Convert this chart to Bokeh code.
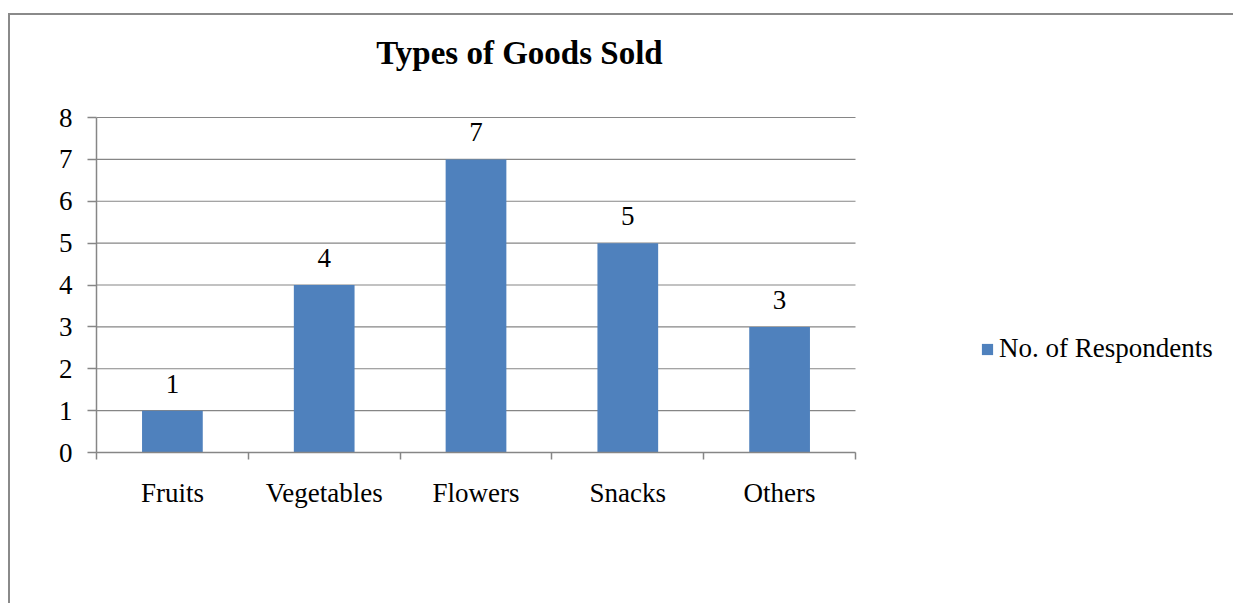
from bokeh.plotting import figure
from bokeh.models import (Range1d, LinearAxis, FixedTicker, Legend, LegendItem,
                          Label, ColumnDataSource)
from bokeh.core.properties import value
from bokeh.embed import file_html
from bokeh.resources import INLINE

# ---- data ----
categories = ["Fruits", "Vegetables", "Flowers", "Snacks", "Others"]
respondents = [1, 4, 7, 5, 3]
y_ticks = [0, 1, 2, 3, 4, 5, 6, 7, 8]
series_name = "No. of Respondents"
title_text = "Types of Goods Sold"

FONT = "Liberation Serif"
GRAY = "#868686"
BAR = "#4F81BD"
FS = "27px"

# ---- layout (pixels) ----
W, H = 1225, 590
LEFT, BOTTOM = 86, 153          # borders around the frame
PLOT_W, PLOT_H = 759, 335       # size of the bar area inside the frame
FRAME_W, FRAME_H = W - LEFT, H - BOTTOM

n = len(categories)
ymax = y_ticks[-1]
xs = [i + 0.5 for i in range(n)]
src = ColumnDataSource(dict(x=xs, val=respondents, lab=[str(v) for v in respondents]))

p = figure(width=W, height=H,
           x_range=Range1d(0, n * FRAME_W / PLOT_W),
           y_range=Range1d(0, ymax * FRAME_H / PLOT_H),
           x_axis_type=None, y_axis_type=None,
           output_backend="svg", toolbar_location=None,
           min_border_left=LEFT, min_border_right=0, min_border_top=0,
           min_border_bottom=BOTTOM)
p.styles = {"border-left": "2px solid #8a8a8a", "border-top": "2px solid #8a8a8a",
            "margin-top": "13px", "margin-left": "8px"}
p.outline_line_color = None
p.background_fill_color = "white"
p.border_fill_color = "white"
p.xgrid.visible = False
p.ygrid.visible = False

# y axis
yax = LinearAxis(ticker=FixedTicker(ticks=y_ticks, minor_ticks=[]), bounds=(0, ymax))
yax.axis_line_color = GRAY
yax.axis_line_width = 1.5
yax.major_tick_line_color = GRAY
yax.major_tick_line_width = 1.5
yax.major_tick_out = 9
yax.major_tick_in = 0
yax.minor_tick_line_color = None
yax.major_label_standoff = 15
yax.major_label_text_font = FONT
yax.major_label_text_font_size = FS
yax.major_label_text_color = "black"
p.add_layout(yax, "left")

# x axis: labels at category centres, ticks at category boundaries
bounds = [float(i) for i in range(n + 1)]
xax = LinearAxis(ticker=FixedTicker(ticks=xs, minor_ticks=bounds), bounds=(0, n))
xax.major_label_overrides = {c: name for c, name in zip(xs, categories)}
xax.axis_line_color = GRAY
xax.axis_line_width = 1.5
xax.major_tick_line_color = None
xax.major_tick_out = 0
xax.major_tick_in = 0
xax.minor_tick_line_color = GRAY
xax.minor_tick_line_width = 1.5
xax.minor_tick_out = 7
xax.minor_tick_in = 0
xax.major_label_standoff = 18
xax.major_label_text_font = FONT
xax.major_label_text_font_size = FS
xax.major_label_text_color = "black"
p.add_layout(xax, "below")

# horizontal gridlines over the category area only
p.segment(x0=[0] * len(y_ticks), x1=[n] * len(y_ticks), y0=y_ticks, y1=y_ticks,
          line_color=GRAY, line_width=1.2)

r = p.vbar(x="x", top="val", width=0.4, source=src, fill_color=BAR, line_color=None)

p.text(x="x", y="val", text="lab", source=src, y_offset=-27,
       text_align="center", text_baseline="alphabetic",
       text_font=value(FONT), text_font_size=FS, text_color="black")

title = Label(x=423, y=400, x_units="screen", y_units="screen", text=title_text,
              text_align="center", text_baseline="alphabetic", text_font=FONT,
              text_font_size="33px", text_font_style="bold", text_color="black")
p.add_layout(title)

legend = Legend(items=[LegendItem(label=series_name, renderers=[r])],
                location=(884, 88), glyph_width=14, glyph_height=14,
                label_standoff=5, padding=0, margin=0, spacing=0,
                border_line_color=None, background_fill_alpha=0,
                label_text_font=FONT, label_text_font_size=FS,
                label_text_color="black")
p.add_layout(legend)

open("out.html", "w").write(file_html(p, INLINE))
